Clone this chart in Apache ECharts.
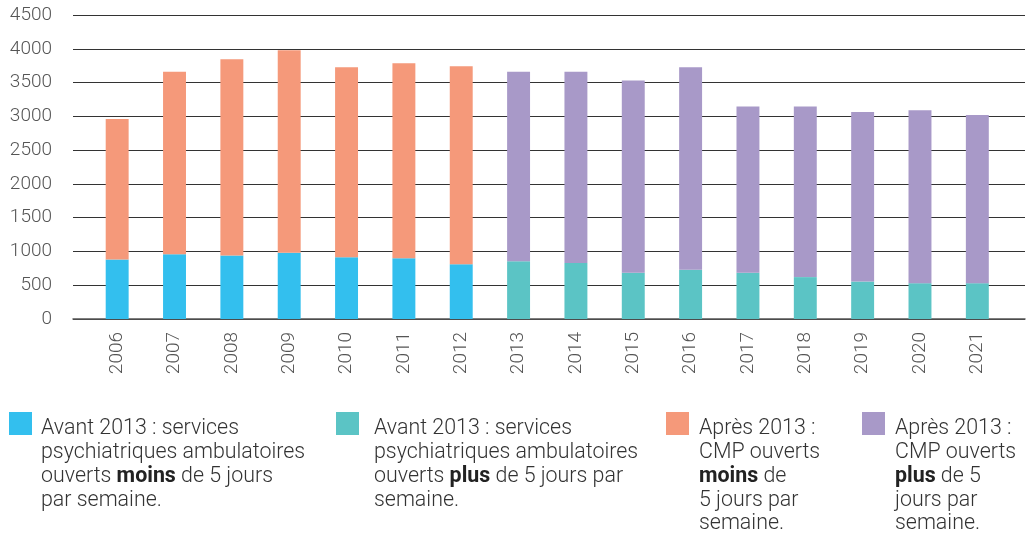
<!DOCTYPE html>
<html>
<head>
<meta charset="utf-8">
<script src="https://cdn.jsdelivr.net/npm/echarts@6/dist/echarts.min.js"></script>
<style>
    html, body { margin: 0; padding: 0; background: #fff; }
    #chart { width: 1029px; height: 536px; }
</style>
</head>
<body>
<div id="chart"></div>
<script>
    var years = ['2006', '2007', '2008', '2009', '2010', '2011', '2012', '2013',
                 '2014', '2015', '2016', '2017', '2018', '2019', '2020', '2021'];
    // avant 2013 (2006-2012)
    var avantMoins = [880, 960, 940, 980, 915, 900, 810];
    var avantPlus = [2080, 2700, 2905, 3000, 2810, 2885, 2930];
    // après 2013 (2013-2021)
    var apresMoins = [855, 830, 685, 730, 685, 620, 555, 530, 530];
    var apresPlus = [2805, 2830, 2845, 2995, 2460, 2525, 2510, 2560, 2490];
    var yTicks = [0, 500, 1000, 1500, 2000, 2500, 3000, 3500, 4000, 4500];

    var fontFamily = 'Roboto, "Noto Sans", sans-serif';
    var colors = ['#33bfee', '#5bc4c5', '#f5997a', '#a899c8'];

    function pad(arr, before, after) {
        var out = [];
        for (var i = 0; i < before; i++) out.push('-');
        out = out.concat(arr);
        for (var j = 0; j < after; j++) out.push('-');
        return out;
    }

    var legendTexts = [
        'Avant 2013 : services\npsychiatriques ambulatoires\nouverts {b|moins} de 5 jours\npar semaine.',
        'Avant 2013 : services\npsychiatriques ambulatoires\nouverts {b|plus} de 5 jours par\nsemaine.',
        'Après 2013 :\nCMP ouverts\n{b|moins} de\n5 jours par\nsemaine.',
        'Après 2013 :\nCMP ouverts\n{b|plus} de 5\njours par\nsemaine.'
    ];
    var legendX = [9, 336, 666, 862];
    var legendTextX = [41, 374, 699, 895];

    var graphics = [];
    legendTexts.forEach(function (t, i) {
        graphics.push({
            type: 'rect',
            left: legendX[i],
            top: 412,
            shape: { width: 23, height: 23 },
            style: { fill: colors[i] }
        });
        graphics.push({
            type: 'text',
            left: legendTextX[i],
            top: 417,
            style: {
                text: t,
                fill: '#333',
                font: '300 21.4px ' + fontFamily,
                lineHeight: 23.8,
                rich: {
                    b: { fontWeight: 'bold', fontSize: 21.4, fontFamily: fontFamily, fill: '#222', lineHeight: 23.8 }
                }
            }
        });
    });

    var chart = echarts.init(document.getElementById('chart'));
    chart.setOption({
        animation: false,
        textStyle: { fontFamily: fontFamily },
        grid: [
            { left: 73, right: 4, top: 15, bottom: 217 },
            { left: 88.5, right: 23, top: 15, bottom: 217 }
        ],
        xAxis: [
            {
                gridIndex: 0,
                type: 'value',
                min: 0,
                max: 1,
                axisLine: { show: true, lineStyle: { color: '#555', width: 1.5 } },
                axisTick: { show: false },
                axisLabel: { show: false },
                splitLine: { show: false }
            },
            {
                gridIndex: 1,
                type: 'category',
                data: years,
                axisLine: { show: false },
                axisTick: { show: false },
                axisLabel: {
                    rotate: 90,
                    margin: 13,
                    color: '#555',
                    fontSize: 19,
                    fontWeight: 300,
                    fontFamily: fontFamily
                }
            }
        ],
        yAxis: [
            {
                gridIndex: 0,
                type: 'value',
                min: 0,
                max: 4500,
                interval: 500,
                axisLine: { show: false },
                axisTick: { show: false },
                axisLabel: {
                    margin: 21,
                    color: '#555',
                    fontSize: 19,
                    fontWeight: 300,
                    fontFamily: fontFamily,
                    formatter: function (v) { return yTicks.indexOf(v) >= 0 ? String(v) : ''; }
                },
                splitLine: { lineStyle: { color: '#333', width: 1.2 } }
            },
            {
                gridIndex: 1,
                type: 'value',
                min: 0,
                max: 4500,
                interval: 500,
                show: false
            }
        ],
        series: [
            {
                name: 'Avant 2013 moins',
                type: 'bar',
                xAxisIndex: 1,
                yAxisIndex: 1,
                stack: 'total',
                barWidth: '40%',
                itemStyle: { color: colors[0] },
                data: pad(avantMoins, 0, 9)
            },
            {
                name: 'Avant 2013 plus',
                type: 'bar',
                xAxisIndex: 1,
                yAxisIndex: 1,
                stack: 'total',
                barWidth: '40%',
                itemStyle: { color: colors[2] },
                data: pad(avantPlus, 0, 9)
            },
            {
                name: 'Après 2013 moins',
                type: 'bar',
                xAxisIndex: 1,
                yAxisIndex: 1,
                stack: 'total',
                barWidth: '40%',
                itemStyle: { color: colors[1] },
                data: pad(apresMoins, 7, 0)
            },
            {
                name: 'Après 2013 plus',
                type: 'bar',
                xAxisIndex: 1,
                yAxisIndex: 1,
                stack: 'total',
                barWidth: '40%',
                itemStyle: { color: colors[3] },
                data: pad(apresPlus, 7, 0)
            }
        ],
        graphic: graphics
    });
</script>
</body>
</html>
